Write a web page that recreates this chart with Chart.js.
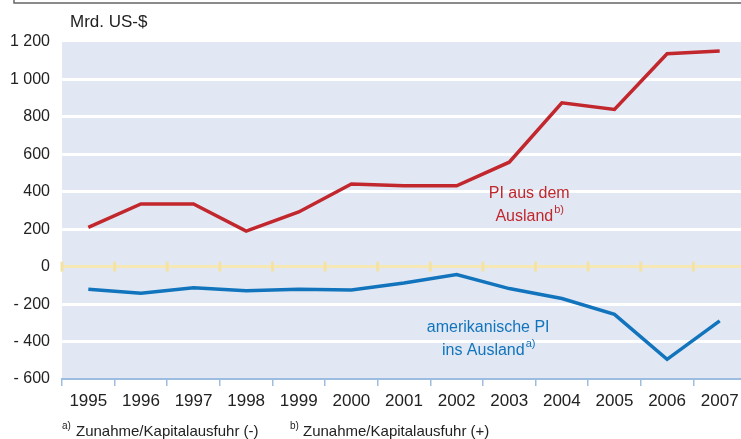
<!DOCTYPE html>
<html>
<head>
<meta charset="utf-8">
<script src="https://cdn.jsdelivr.net/npm/chart.js@4/dist/chart.umd.min.js"></script>
<style>
  html, body { margin: 0; padding: 0; background: #fff; overflow: hidden; }
  #wrap { position: relative; width: 746px; height: 439px; }
</style>
</head>
<body>
<div id="wrap"><canvas id="chart"></canvas></div>
<script>
// Jahre und Werte (Mrd. US-$)
const years = ['1995', '1996', '1997', '1998', '1999', '2000', '2001', '2002', '2003', '2004', '2005', '2006', '2007'];
const piAusDemAusland = [210, 335, 335, 190, 292, 442, 432, 432, 558, 875, 840, 1137, 1152];
const piInsAusland = [-120, -142, -113, -128, -120, -125, -87, -42, -117, -170, -255, -495, -290];
const yTicks = [-600, -400, -200, 0, 200, 400, 600, 800, 1000, 1200];

const RED = '#c1272d';
const BLUE = '#1274bc';
const FONT = '"Liberation Sans", Arial, sans-serif';

function fmt(v) {
    const a = Math.abs(v);
    const s = a >= 1000 ? Math.floor(a / 1000) + ' ' + String(a % 1000).padStart(3, '0') : String(a);
    return v < 0 ? '- ' + s : s;
}

// Hintergrund, Nulllinie, Beschriftungen
const decor = {
    id: 'decor',
    beforeDraw(chart) {
        const { ctx, chartArea: a } = chart;
        ctx.save();
        ctx.fillStyle = '#e1e8f3';
        ctx.fillRect(a.left, a.top, a.right - a.left, a.bottom - a.top);
        // Rahmen oben
        ctx.strokeStyle = '#666';
        ctx.lineWidth = 1.5;
        ctx.beginPath();
        ctx.moveTo(14, 0);
        ctx.lineTo(14, 3);
        ctx.lineTo(chart.width, 3);
        ctx.stroke();
        ctx.restore();
    },
    beforeDatasetsDraw(chart) {
        const { ctx, scales: { x, y } } = chart;
        const y0 = y.getPixelForValue(0);
        ctx.save();
        ctx.strokeStyle = '#f3e2a6';
        ctx.lineWidth = 3;
        for (let i = 0; i <= years.length; i++) {
            const px = x.getPixelForValue(i - 0.5);
            ctx.beginPath();
            ctx.moveTo(px, y0 - 5);
            ctx.lineTo(px, y0 + 5);
            ctx.stroke();
        }
        ctx.restore();
    },
    afterDraw(chart) {
        const { ctx, scales: { x, y } } = chart;
        ctx.save();
        ctx.textBaseline = 'middle';
        ctx.fillStyle = '#222';
        ctx.font = '17px ' + FONT;
        ctx.textAlign = 'left';
        ctx.fillText('Mrd. US-$', 70, 22);

        // Reihenbeschriftungen
        const label = (lines, cx, cy, color, sup) => {
            ctx.fillStyle = color;
            ctx.textAlign = 'center';
            ctx.font = '16px ' + FONT;
            ctx.fillText(lines[0], cx, cy);
            const w = ctx.measureText(lines[1]).width;
            ctx.font = '11px ' + FONT;
            const sw = ctx.measureText(sup).width;
            ctx.font = '16px ' + FONT;
            const left = cx - (w + sw) / 2;
            ctx.textAlign = 'left';
            ctx.fillText(lines[1], left, cy + 23);
            ctx.font = '11px ' + FONT;
            ctx.fillText(sup, left + w + 1, cy + 16);
        };
        label(['PI aus dem', 'Ausland'], x.getPixelForValue(8.38), y.getPixelForValue(390), RED, 'b)');
        label(['amerikanische PI', 'ins Ausland'], x.getPixelForValue(7.6), y.getPixelForValue(-325), BLUE, 'a)');

        // Fussnoten
        ctx.fillStyle = '#222';
        ctx.textAlign = 'left';
        ctx.font = '10px ' + FONT;
        ctx.fillText('a)', 62, 426);
        ctx.fillText('b)', 290, 426);
        ctx.font = '15px ' + FONT;
        ctx.fillText('Zunahme/Kapitalausfuhr (-)', 76, 432);
        ctx.fillText('Zunahme/Kapitalausfuhr (+)', 303, 432);
        ctx.restore();
    }
};

new Chart(document.getElementById('chart'), {
    type: 'line',
    data: {
        labels: years,
        datasets: [{
            label: 'PI aus dem Ausland',
            data: piAusDemAusland,
            borderColor: RED,
            borderWidth: 3.5,
            pointRadius: 0,
            tension: 0
        }, {
            label: 'amerikanische PI ins Ausland',
            data: piInsAusland,
            borderColor: BLUE,
            borderWidth: 3.5,
            pointRadius: 0,
            tension: 0
        }]
    },
    options: {
        responsive: true,
        maintainAspectRatio: false,
        animation: false,
        layout: { padding: { top: 42, right: 0, left: 0, bottom: 0 } },
        plugins: {
            legend: { display: false },
            tooltip: { enabled: false }
        },
        scales: {
            x: {
                offset: true,
                afterFit: s => { s.height = 60; },
                grid: {
                    offset: true,
                    drawOnChartArea: false,
                    color: '#9dbde0',
                    lineWidth: 1.5,
                    tickLength: 7
                },
                border: { color: '#9dbde0', width: 2 },
                ticks: {
                    color: '#222',
                    padding: 5,
                    maxRotation: 0,
                    font: { family: FONT, size: 17 }
                }
            },
            y: {
                min: -600,
                max: 1200,
                afterFit: s => { s.width = 62; },
                afterBuildTicks: s => { s.ticks = yTicks.map(v => ({ value: v })); },
                grid: {
                    drawTicks: false,
                    lineWidth: 3,
                    color: c => {
                        const v = c.tick && c.tick.value;
                        if (v === 0) return '#f6e8b4';
                        if (v === -600 || v === 1200) return 'rgba(0,0,0,0)';
                        return '#ffffff';
                    }
                },
                border: { display: false },
                ticks: {
                    color: '#222',
                    padding: 12,
                    font: { family: FONT, size: 16 },
                    callback: v => fmt(v)
                }
            }
        }
    },
    plugins: [decor]
});
</script>
</body>
</html>
